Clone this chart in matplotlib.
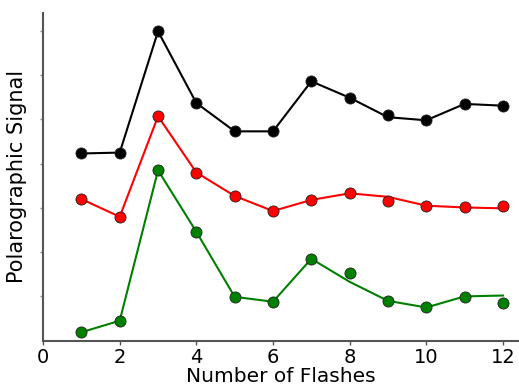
import matplotlib.pyplot as plt
import numpy as np

flashes = np.arange(1, 13)

# measured points
black_pts = [4.23, 4.25, 6.99, 5.37, 4.73, 4.73, 5.86, 5.49, 5.09, 4.98, 5.35, 5.31]
red_pts = [3.20, 2.80, 5.07, 3.80, 3.27, 2.93, 3.18, 3.33, 3.15, 3.05, 3.02, 3.04]
green_pts = [0.19, 0.45, 3.85, 2.46, 0.99, 0.88, 1.85, 1.52, 0.90, 0.75, 0.99, 0.86]

# fitted curves (do not pass exactly through every point)
black_line = [4.23, 4.25, 6.99, 5.37, 4.73, 4.73, 5.86, 5.49, 5.05, 4.98, 5.35, 5.31]
red_line = [3.20, 2.80, 5.07, 3.80, 3.27, 2.93, 3.18, 3.33, 3.25, 3.05, 3.01, 2.99]
green_line = [0.19, 0.45, 3.85, 2.46, 0.99, 0.88, 1.85, 1.33, 0.90, 0.75, 1.00, 1.02]

y_ticks = [1, 2, 3, 4, 5, 6, 7]

fig = plt.figure(figsize=(5.19, 3.88), dpi=100)
ax = fig.add_axes([0.083, 0.122, 0.917, 0.844])

series = [(black_pts, black_line, 'black'),
          (red_pts, red_line, 'red'),
          (green_pts, green_line, 'green')]
for pts, line, c in series:
    ax.plot(flashes, line, color=c, linewidth=1.5, zorder=2)
    ax.plot(flashes, pts, 'o', color=c, markersize=8,
            markeredgecolor='#222222', markeredgewidth=0.6, zorder=3)

ax.set_xlim(0, 12.42)
ax.set_ylim(0, 7.4)
ax.set_xticks([0, 2, 4, 6, 8, 10, 12])
ax.set_yticks(y_ticks)
ax.set_yticklabels([])

for s in ['top', 'right']:
    ax.spines[s].set_visible(False)
for s in ['left', 'bottom']:
    ax.spines[s].set_color('#555555')
    ax.spines[s].set_linewidth(1.5)

ax.tick_params(axis='x', labelsize=14, length=3, width=1, color='#555555', pad=2)
ax.tick_params(axis='y', length=2, width=1, color='#888888')

ax.set_xlabel('Number of Flashes', fontsize=14.5, labelpad=0)
ax.set_ylabel('Polarographic Signal', fontsize=15, labelpad=6)

fig.savefig('out.png', dpi=100)
